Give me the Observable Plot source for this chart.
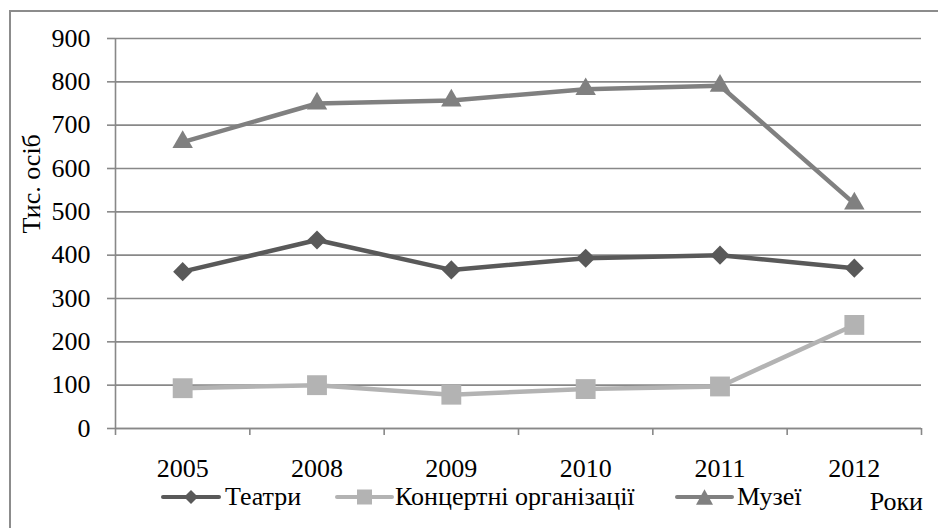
<!DOCTYPE html>
<html><head><meta charset="utf-8">
<script src="https://cdn.jsdelivr.net/npm/d3@7"></script>
<script src="https://cdn.jsdelivr.net/npm/@observablehq/plot@0.6"></script>
<style>
body{margin:0;background:#fff}
#wrap{position:relative;width:938px;height:528px;overflow:hidden;font-family:"Liberation Serif","Times New Roman",serif}
#wrap svg{position:absolute;left:0;top:0}
#wrap svg, #wrap svg text{font-family:"Liberation Serif","Times New Roman",serif !important}
#border{position:absolute;left:9px;top:10px;width:960px;height:560px;border-left:2px solid #8c8c8c;border-top:2px solid #8c8c8c}
</style>
</head><body><div id="wrap"><div id="border"></div></div>
<script>
const years = ["2005", "2008", "2009", "2010", "2011", "2012"];
const theatres = [362, 435, 366, 393, 400, 370];
const concerts = [93, 100, 78, 91, 97, 239];
const museums = [661, 750, 757, 783, 791, 519];
const seriesNames = ["Театри", "Концертні організації", "Музеї"];
const seriesValues = [theatres, concerts, museums];
const seriesColors = ["#595959", "#b3b3b3", "#808080"];
const seriesSymbols = ["diamond2", "square", "triangle"];
const seriesRadii = [8.6, 11.2, 7.6];
const yTicks = [0, 100, 200, 300, 400, 500, 600, 700, 800, 900];
const yLabel = "Тис. осіб";
const xLabel = "Роки";

const font = '"Liberation Serif","Times New Roman",serif';
const fs = 26;

const data = [];
seriesNames.forEach((s, k) => seriesValues[k].forEach((v, i) =>
  data.push({series: s, k, x: i + 0.5, year: years[i], value: v})));

const seriesMarks = [];
seriesNames.forEach((s, k) => {
  const d = data.filter(r => r.k === k);
  seriesMarks.push(Plot.line(d, {x: "x", y: "value", stroke: seriesColors[k], strokeWidth: 4.5, strokeLinejoin: "round", strokeLinecap: "round"}));
  seriesMarks.push(Plot.dot(d, {x: "x", y: "value", symbol: seriesSymbols[k], r: seriesRadii[k], fill: seriesColors[k], stroke: "none"}));
});

const chart = Plot.plot({
  width: 938, height: 528,
  marginLeft: 115, marginRight: 17, marginTop: 38, marginBottom: 100,
  style: {fontFamily: font, fontSize: fs + "px", color: "#000", background: "transparent", overflow: "visible"},
  x: {type: "linear", domain: [0, years.length]},
  y: {domain: [0, 900]},
  marks: [
    Plot.gridY(yTicks, {stroke: "#888888", strokeOpacity: 1, strokeWidth: 1.6}),
    Plot.ruleX([0], {stroke: "#888888", strokeWidth: 1.6}),
    Plot.ruleY([0], {stroke: "#888888", strokeWidth: 1.6}),
    Plot.axisY(yTicks, {tickSize: 8, tickPadding: 17, stroke: "#888888", strokeWidth: 1.6, fill: "#000", fontSize: fs, fontFamily: font, fontVariant: "normal", tickFormat: d => String(d), label: null}),
    Plot.axisX(d3.range(years.length + 1), {tickSize: 7, stroke: "#888888", strokeWidth: 1.6, tickFormat: () => "", label: null}),
    Plot.axisX(years.map((_, i) => i + 0.5), {tickSize: 0, tickPadding: 30.5, fill: "#000", fontSize: fs, fontFamily: font, fontVariant: "normal", tickFormat: d => years[Math.floor(d)], label: null}),
    Plot.text([yLabel], {frameAnchor: "left", rotate: -90, dx: -84, fontSize: fs, fontFamily: font, fill: "#000"}),
    ...seriesMarks
  ]
});
const wrap = document.getElementById("wrap");
wrap.appendChild(chart);

// legend overlay
const svg = d3.select(wrap).append("svg").attr("width", 938).attr("height", 528)
  .style("font-family", font).style("font-size", fs + "px");
const legendItems = [
  {x1: 163, x2: 219, tx: 225},
  {x1: 337, x2: 392, tx: 395},
  {x1: 677, x2: 732, tx: 737}
];
const legendSizes = [14, 15, 17];
function markerPath(k, w) {
  if (k === 0) { const r = w / 2; return `M0,${-r}L${r},0L0,${r}L${-r},0Z`; }
  if (k === 1) { const r = w / 2; return `M${-r},${-r}H${r}V${r}H${-r}Z`; }
  const h = w * 0.92; return `M0,${-h / 2}L${w / 2},${h / 2}L${-w / 2},${h / 2}Z`;
}
legendItems.forEach((it, k) => {
  const cy = 497;
  svg.append("line").attr("x1", it.x1).attr("x2", it.x2).attr("y1", cy).attr("y2", cy)
    .attr("stroke", seriesColors[k]).attr("stroke-width", 4).attr("stroke-linecap", "round");
  svg.append("path").attr("d", markerPath(k, legendSizes[k]))
    .attr("transform", `translate(${(it.x1 + it.x2) / 2},${cy})`).attr("fill", seriesColors[k]);
  svg.append("text").attr("x", it.tx).attr("y", 505).attr("fill", "#000").text(seriesNames[k]);
});
svg.append("text").attr("x", 923).attr("y", 510).attr("text-anchor", "end").attr("fill", "#000").text(xLabel);
</script>
</body></html>
